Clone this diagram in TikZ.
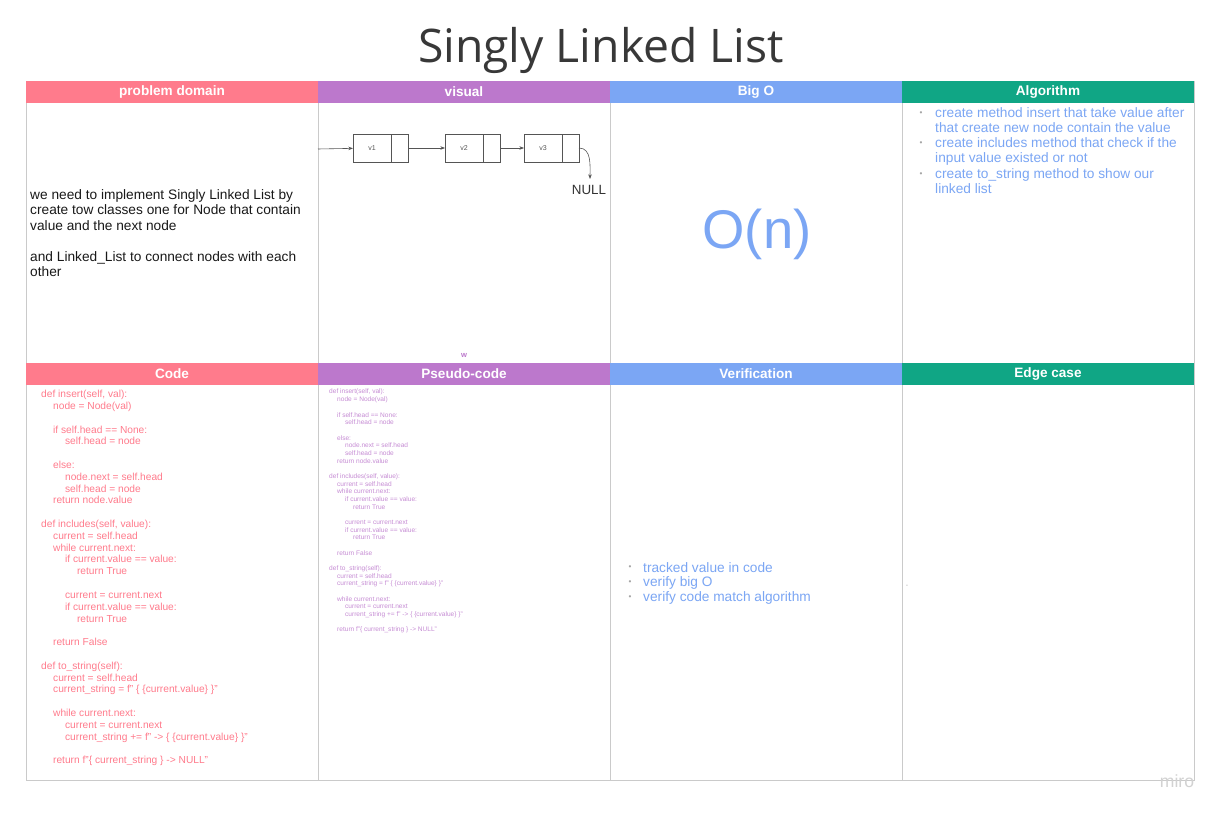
\documentclass[tikz,border=0pt]{standalone}
\usepackage{fontspec}
\setmainfont{Liberation Sans}
\newfontfamily\titlefont{Open Sans}
\usetikzlibrary{positioning,arrows.meta}
\definecolor{rosered}{HTML}{FF7B8C}
\definecolor{orchid}{HTML}{BC78CC}
\definecolor{skyblue}{HTML}{7BA6F4}
\definecolor{jade}{HTML}{10A685}
\definecolor{gridgray}{HTML}{CACACA}
\definecolor{inkgray}{HTML}{555555}

\newlength{\indstep}
\newcommand{\lv}[1]{\hspace*{#1\indstep}}
\newcommand{\blank}{\\[\baselineskip]}
% insert / includes / to_string, used in both code cells
\newcommand{\pysource}{%
def insert(self, val):\\
\lv{1}node = Node(val)\blank
\lv{1}if self.head == None:\\
\lv{2}self.head = node\blank
\lv{1}else:\\
\lv{2}node.next = self.head\\
\lv{2}self.head = node\\
\lv{1}return node.value\blank
def includes(self, value):\\
\lv{1}current = self.head\\
\lv{1}while current.next:\\
\lv{2}if current.value == value:\\
\lv{3}return True\blank
\lv{2}current = current.next\\
\lv{2}if current.value == value:\\
\lv{3}return True\blank
\lv{1}return False\blank
def to\_string(self):\\
\lv{1}current = self.head\\
\lv{1}current\_string = f" \{ \{current.value\} \}"\blank
\lv{1}while current.next:\\
\lv{2}current = current.next\\
\lv{2}current\_string += f" -> \{ \{current.value\} \}"\blank
\lv{1}return f"\{ current\_string \} -> NULL"}

\begin{document}
\begin{tikzpicture}[
    x=0.03cm, y=-0.03cm,
    hdr/.style={minimum width=8.76cm, minimum height=0.66cm, inner sep=0pt, outer sep=0pt, text=white, font=\fontsize{11.6}{12}\selectfont\bfseries},
    bodytext/.style={inner sep=0pt, align=left, font=\fontsize{11.7}{13.2}\selectfont},
    codetext/.style={inner sep=0pt, align=left, anchor=north west, text=rosered, font=\fontsize{8.7}{10.08}\selectfont\setlength{\indstep}{10.2pt}},
    pseudotext/.style={inner sep=0pt, align=left, anchor=north west, text=orchid!85, font=\fontsize{5.6}{6.55}\selectfont\setlength{\indstep}{6.8pt}},
    dot/.style={inner sep=0pt, text=gray!70, font=\fontsize{7}{8}\selectfont},
    valbox/.style={draw=inkgray, line width=0.7pt, minimum width=1.14cm, minimum height=0.84cm, inner sep=0pt, outer sep=0pt, text=inkgray, font=\fontsize{6}{7}\selectfont},
    ptrbox/.style={draw=inkgray, line width=0.7pt, minimum width=0.51cm, minimum height=0.84cm, inner sep=0pt, outer sep=0pt},
    link/.style={draw=inkgray, line width=0.5pt, -{Stealth[length=4pt,width=3pt]}}
]
    \useasboundingbox[fill=white] (0,0) rectangle (1224,816);

    % Titolo
    \node[inner sep=0pt, text=black!78, font=\titlefont\fontsize{39.5}{46}\selectfont] (title) at (601,50) {Singly Linked List};

    % Griglia (linee prima delle intestazioni)
    \draw[gridgray, line width=0.6pt] (26,81) -- (26,780) -- (1194,780) -- (1194,81);
    \foreach \xx in {318,610,902}
        \draw[gridgray, line width=0.6pt] (\xx,81) -- (\xx,780);

    % Intestazioni riga 1
    \node[hdr, fill=rosered] (hprob) at (172,92) {problem domain};
    \node[hdr, fill=orchid] (hvis) at (464,92) {visual};
    \node[hdr, fill=skyblue] (hbig) at (756,92) {Big O};
    \node[hdr, fill=jade] (halg) at (1048,92) {Algorithm};

    % Intestazioni riga 2
    \node[hdr, fill=rosered] (hcode) at (172,374) {Code};
    \node[hdr, fill=orchid] (hpseudo) at (464,374) {Pseudo-code};
    \node[hdr, fill=skyblue] (hver) at (756,374) {Verification};
    \node[hdr, fill=jade] (hedge) at (1048,374) {Edge case};

    % problem domain
    \node[bodytext, anchor=north west, text=black!90] (prob) at (30,189) {we need to implement Singly Linked List by\\create tow classes one for Node that contain\\value and the next node\blank and Linked\_List to connect nodes with each\\other};

    % visual: lista concatenata
    \coordinate (head) at (318,149);
    \node[valbox] (v1) at (372,148) {v1};
    \node[ptrbox, right=0pt of v1] (n1) {};
    \node[valbox] (v2) at (464,148) {v2};
    \node[ptrbox, right=0pt of v2] (n2) {};
    \node[valbox] (v3) at (543,148) {v3};
    \node[ptrbox, right=0pt of v3] (n3) {};
    \coordinate (nullend) at (590,179);
    \node[inner sep=0pt, text=black!80, font=\fontsize{11.4}{12}\selectfont] (null) at (589,190) {NULL};

    \draw[link] (head) -- (v1);
    \draw[link] (n1) -- (v2);
    \draw[link] (n2) -- (v3);
    \draw[link] (n3.east) to[out=0, in=90] (nullend);

    \node[inner sep=0pt, text=orchid, font=\fontsize{6.5}{7}\selectfont\bfseries] (wmark) at (464,355) {w};

    % Big O
    \node[inner sep=0pt, text=skyblue, font=\fontsize{46.5}{50}\selectfont] (bigo) at (757,234) {O(n)};

    % Algorithm
    \node[dot] (ab1) at (921,114) {\textbullet};
    \node[bodytext, anchor=north west, text=skyblue] (alg1) at (935,107) {create method insert that take value after\\that create new node contain the value};
    \node[dot] (ab2) at (921,144) {\textbullet};
    \node[bodytext, anchor=north west, text=skyblue] (alg2) at (935,137) {create includes method that check if the\\input value existed or not};
    \node[dot] (ab3) at (921,175) {\textbullet};
    \node[bodytext, anchor=north west, text=skyblue] (alg3) at (935,168) {create to\_string method to show our\\linked list};

    % Code e Pseudo-code
    \node[codetext] (code) at (41,390) {\pysource};
    \node[pseudotext] (pseudo) at (329,389) {\pysource};

    % Verification
    \node[dot] (vb1) at (630,568) {\textbullet};
    \node[bodytext, anchor=west, text=skyblue] (ver1) at (643,568) {tracked value in code};
    \node[dot] (vb2) at (630,583) {\textbullet};
    \node[bodytext, anchor=west, text=skyblue] (ver2) at (643,583) {verify big O};
    \node[dot] (vb3) at (630,598) {\textbullet};
    \node[bodytext, anchor=west, text=skyblue] (ver3) at (643,598) {verify code match algorithm};

    % Edge case
    \node[inner sep=0pt, text=gray!60, font=\fontsize{6}{7}\selectfont] (edge) at (907,586) {-};

    % marchio
    \node[inner sep=0pt, text=gray!35, font=\fontsize{15}{16}\selectfont] (miro) at (1177,781) {miro};
\end{tikzpicture}
\end{document}
